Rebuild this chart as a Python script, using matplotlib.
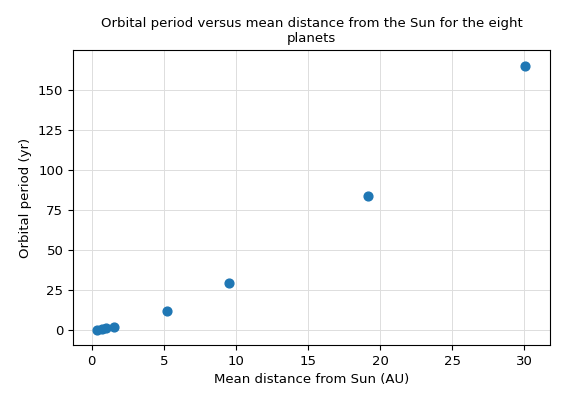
import matplotlib
matplotlib.use("Agg")
import matplotlib.pyplot as plt

planets = ["Mercury", "Venus", "Earth", "Mars", "Jupiter", "Saturn", "Uranus", "Neptune"]
distance_au = [0.39, 0.72, 1.0, 1.52, 5.20, 9.54, 19.19, 30.06]
period_yr = [0.24, 0.62, 1.0, 1.88, 11.86, 29.46, 84.01, 164.8]

fig = plt.figure(figsize=(5.62, 4.04), dpi=100)
ax = fig.add_axes([0.13, 0.146, 0.849, 0.73])
ax.scatter(distance_au, period_yr, s=40, color="#1f77b4", zorder=3)
ax.grid(True, color="#dddddd", linewidth=0.7)
ax.set_axisbelow(True)
ax.set_xlim(-1.3, 31.8)
ax.set_ylim(-9.4, 175)
ax.set_xlabel("Mean distance from Sun (AU)", fontsize=9.5)
ax.set_ylabel("Orbital period (yr)", fontsize=9.5)
ax.set_title("Orbital period versus mean distance from the Sun for the eight\nplanets", fontsize=9.5)
ax.tick_params(labelsize=9.5)
ax.set_xticks([0, 5, 10, 15, 20, 25, 30])
ax.set_yticks([0, 25, 50, 75, 100, 125, 150])
fig.savefig("out.png", dpi=100)
